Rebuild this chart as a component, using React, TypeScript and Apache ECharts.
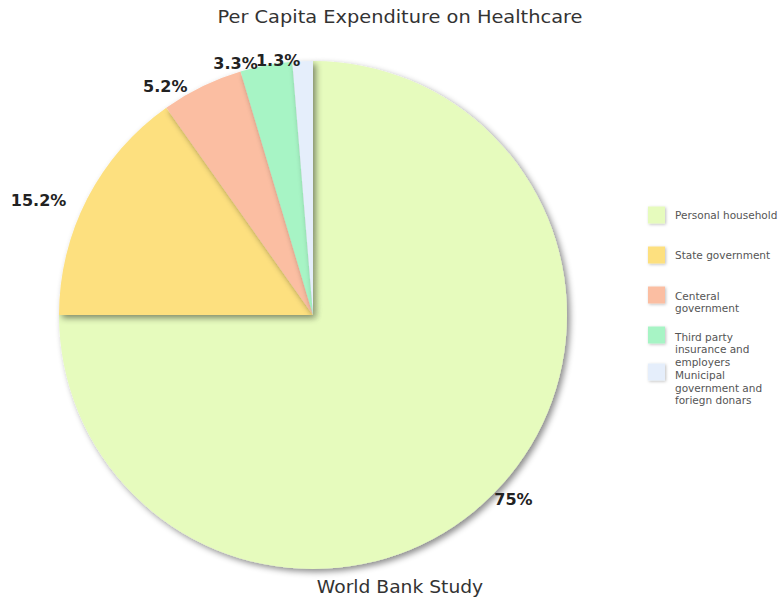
import React, { useEffect, useRef } from "react";
import * as echarts from "echarts";

const categories = [
  "Personal household",
  "State government",
  "Centeral government",
  "Third party insurance and employers",
  "Municipal government and foriegn donars",
];
const legendLabels = [
  "Personal household",
  "State government",
  "Centeral\ngovernment",
  "Third party\ninsurance and\nemployers",
  "Municipal\ngovernment and\nforiegn donars",
];
const values = [75, 15.2, 5.2, 3.3, 1.3];
const colors = ["#e6fbbd", "#fde07f", "#fbbea2", "#a7f4c5", "#e5eefb"];

// layout/style helpers (not data)
const legendTops = [206.5, 246.5, 275.5, 302.25, 337.75];
const legendGap = [0, 0, 14, 28, 31];
const labelOffsets = [
  [-4, -1],
  [-14, 6],
  [-11, 7],
  [-7, 6],
  [-2, 7],
];

export default function App() {
  const ref = useRef<HTMLDivElement>(null);
  useEffect(() => {
    if (!ref.current) return;
    const chart = echarts.init(ref.current, null, { renderer: "svg" });
    const legends = categories.map((name, i) => ({
      data: [name],
      left: 648,
      top: legendTops[i],
      orient: "vertical",
      icon: "rect",
      itemWidth: 17,
      itemHeight: 17,
      itemGap: 0,
      padding: 0,
      selectedMode: false,
      itemStyle: {
        shadowBlur: 3,
        shadowColor: "rgba(0,0,0,0.25)",
        shadowOffsetX: 1,
        shadowOffsetY: 1,
      },
      formatter: () => {
        const lines = legendLabels[i].split("\n").map((l) => "{t|" + l + "}");
        return (legendGap[i] > 0 ? "{g| }\n" : "") + lines.join("\n");
      },
      textStyle: {
        fontFamily: "DejaVu Sans",
        fontSize: 10.5,
        lineHeight: 12.5,
        color: "#555",
        padding: [0, 0, 0, 5],
        rich: {
          t: {
            fontFamily: "DejaVu Sans",
            fontSize: 10.5,
            lineHeight: 12.5,
            color: "#555",
          },
          g: {
            fontSize: 1,
            lineHeight: legendGap[i],
            height: legendGap[i],
          },
        },
      },
    }));
    chart.setOption({
      animation: false,
      backgroundColor: "#ffffff",
      color: colors,
      legend: legends,
      graphic: [
        {
          type: "text",
          x: 400,
          y: 17,
          scaleX: 1.14,
          style: {
            text: "Per Capita Expenditure on Healthcare",
            fontFamily: "DejaVu Sans",
            fontSize: 17,
            fill: "#333",
            textAlign: "center",
            textVerticalAlign: "middle",
          },
        },
        {
          type: "text",
          x: 400,
          y: 587,
          scaleX: 1.1,
          style: {
            text: "World Bank Study",
            fontFamily: "DejaVu Sans",
            fontSize: 17,
            fill: "#333",
            textAlign: "center",
            textVerticalAlign: "middle",
          },
        },
      ],
      series: [
        {
          type: "pie",
          center: [313, 315],
          radius: 254,
          startAngle: 90,
          clockwise: true,
          avoidLabelOverlap: false,
          data: categories.map((name, i) => ({ name, value: values[i] })),
          itemStyle: {
            shadowBlur: 6,
            shadowColor: "rgba(0,0,0,0.45)",
            shadowOffsetX: 3,
            shadowOffsetY: 3,
          },
          label: {
            show: true,
            position: "outside",
            formatter: (p: any) => p.value + "%",
            fontFamily: "DejaVu Sans",
            fontWeight: "bold",
            fontSize: 16,
            color: "#222",
            distanceToLabelLine: 0,
          },
          labelLine: { show: false, length: 8, length2: 0 },
          labelLayout: (p: any) => ({
            dx: labelOffsets[p.dataIndex][0],
            dy: labelOffsets[p.dataIndex][1],
            hideOverlap: false,
          }),
          emphasis: { disabled: true },
        },
      ],
    });
    return () => chart.dispose();
  }, []);
  return (
    <div
      ref={ref}
      style={{ position: "fixed", left: 0, top: 0, width: 781, height: 600 }}
    />
  );
}
